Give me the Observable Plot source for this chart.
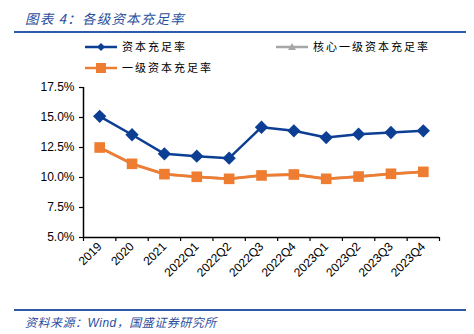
<!DOCTYPE html>
<html>
<head>
<meta charset="utf-8">
<script src="https://cdn.jsdelivr.net/npm/d3@7"></script>
<script src="https://cdn.jsdelivr.net/npm/@observablehq/plot@0.6"></script>
<style>
  html, body { margin: 0; padding: 0; background: #fff; }
  #wrap { position: relative; width: 474px; height: 334px; overflow: hidden; font-family: "Liberation Sans", "Noto Sans CJK SC", sans-serif; }
  .abs { position: absolute; white-space: nowrap; }
  .cn { font-family: "Noto Sans CJK SC", sans-serif; }
  #chart { position: absolute; left: 0; top: 0; }
</style>
</head>
<body>
<div id="wrap">
  <div id="chart"></div>
  <div class="abs cn" style="left:25px; top:8px; font-size:13.5px; color:#2d4f9e; font-style:italic; letter-spacing:1.2px;">图表 4：各级资本充足率</div>
  <div class="abs" style="left:14px; top:31px; width:452px; height:2px; background:#2d5aa8;"></div>
  <div id="legend"></div>
  <div class="abs" style="left:14px; top:309px; width:452px; height:2px; background:#2d5aa8;"></div>
  <div class="abs cn" style="left:25px; top:313px; font-size:12px; color:#2d4f9e; font-style:italic; letter-spacing:0.5px;">资料来源：<span style="font-family:'Liberation Sans',sans-serif;">Wind</span>，国盛证券研究所</div>
</div>
<script>
const categories = ["2019","2020","2021","2022Q1","2022Q2","2022Q3","2022Q4","2023Q1","2023Q2","2023Q3","2023Q4"];
const capitalRatio = [15.1, 13.56, 11.97, 11.78, 11.61, 14.19, 13.89, 13.33, 13.61, 13.75, 13.89];
const tier1Ratio   = [12.5, 11.14, 10.28, 10.06, 9.89, 10.17, 10.25, 9.89, 10.08, 10.31, 10.47];
const coreTier1Ratio = [12.5, 11.14, 10.28, 10.06, 9.89, 10.17, 10.25, 9.89, 10.08, 10.31, 10.47];
const yTicks = [5, 7.5, 10, 12.5, 15, 17.5];
const seriesNames = ["资本充足率", "核心一级资本充足率", "一级资本充足率"];

const BLUE = "#0c3f94", ORANGE = "#ee7d32", GRAY = "#a6a6a6";

const rows = (vals) => vals.map((v, i) => ({x: i + 0.5, y: v, cat: categories[i]}));
const blue = rows(capitalRatio), orange = rows(tier1Ratio), gray = rows(coreTier1Ratio);

const chart = Plot.plot({
  width: 474,
  height: 305,
  marginTop: 87,
  marginLeft: 83,
  marginRight: 35,
  marginBottom: 68,
  style: {fontFamily: "'Liberation Sans', Arial, sans-serif", color: "#000", background: "transparent"},
  x: {type: "linear", domain: [0, categories.length], axis: null},
  y: {domain: [5, 17.5], axis: null},
  marks: [
    Plot.axisY({ticks: yTicks, tickFormat: d => d.toFixed(1) + "%", tickSize: 4, tickPadding: 5, fontSize: 12, label: null, stroke: "#000", strokeWidth: 1.2}),
    Plot.axisX({ticks: d3.range(categories.length + 1), tickFormat: () => "", tickSize: 4, label: null, strokeWidth: 1.2}),
    Plot.axisX({ticks: categories.map((c, i) => i + 0.5), tickFormat: d => categories[Math.floor(d)], tickSize: 0, tickPadding: 7, tickRotate: -45, fontSize: 12, label: null}),
    Plot.ruleX([0], {stroke: "#000", strokeWidth: 1.5}),
    Plot.ruleY([5], {stroke: "#000", strokeWidth: 1.5}),
    Plot.line(gray, {x: "x", y: "y", stroke: GRAY, strokeWidth: 2.5}),
    Plot.line(orange, {x: "x", y: "y", stroke: ORANGE, strokeWidth: 2.8}),
    Plot.dot(orange, {x: "x", y: "y", symbol: "square", r: 6, fill: ORANGE, stroke: "none"}),
    Plot.line(blue, {x: "x", y: "y", stroke: BLUE, strokeWidth: 2.5}),
    Plot.dot(blue, {x: "x", y: "y", symbol: "diamond2", r: 6, fill: BLUE, stroke: "none"})
  ]
});
document.getElementById("chart").appendChild(chart);

// legend
const legendItems = [
  {name: seriesNames[0], color: BLUE, sym: "diamond", left: 85, top: 47},
  {name: seriesNames[1], color: GRAY, sym: "triangle", left: 276, top: 47},
  {name: seriesNames[2], color: ORANGE, sym: "square", left: 85, top: 68}
];
const lg = document.getElementById("legend");
legendItems.forEach(it => {
  const s = document.createElementNS("http://www.w3.org/2000/svg", "svg");
  s.setAttribute("width", 34); s.setAttribute("height", 12);
  s.style.position = "absolute"; s.style.left = it.left + "px"; s.style.top = (it.top - 6) + "px";
  let marker = "";
  if (it.sym === "diamond") marker = `<path d="M16 2 L20 6 L16 10 L12 6 Z" fill="${it.color}"/>`;
  if (it.sym === "triangle") marker = `<path d="M16 2 L20 9 L12 9 Z" fill="${it.color}"/>`;
  if (it.sym === "square") marker = `<rect x="11" y="1" width="10" height="10" fill="${it.color}"/>`;
  s.innerHTML = `<line x1="0" y1="6" x2="32" y2="6" stroke="${it.color}" stroke-width="2.5"/>` + marker;
  lg.appendChild(s);
  const t = document.createElement("div");
  t.className = "abs cn";
  t.style.left = (it.left + 37) + "px";
  t.style.top = (it.top - 9) + "px";
  t.style.fontSize = "11px";
  t.style.letterSpacing = "2px";
  t.style.color = "#000";
  t.textContent = it.name;
  lg.appendChild(t);
});
</script>
</body>
</html>
